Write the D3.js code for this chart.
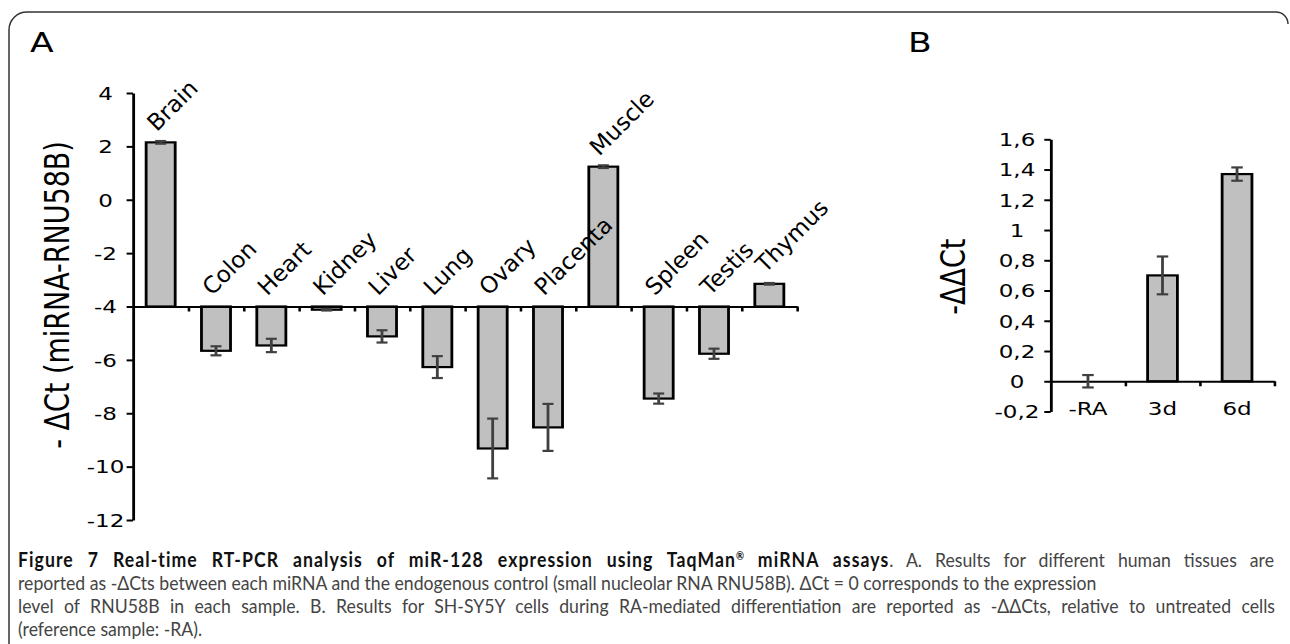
<!DOCTYPE html>
<html>
<head>
<meta charset="utf-8">
<script src="https://cdn.jsdelivr.net/npm/d3@7"></script>
<style>
html,body{margin:0;padding:0;background:#fff;}
svg{display:block;}
</style>
</head>
<body>
<svg id="chart" width="1290" height="644"></svg>
<script>
// ---------- data ----------
const tissues = ["Brain","Colon","Heart","Kidney","Liver","Lung","Ovary","Placenta","Muscle","Spleen","Testis","Thymus"];
const dCt     = [2.15,-5.66,-5.46,-4.12,-5.12,-6.27,-9.32,-8.53,1.24,-7.45,-5.77,-3.15];
const dCtErr  = [0.05,0.17,0.25,0.03,0.23,0.41,1.12,0.88,0.05,0.19,0.19,0.03];
const yTicksA = [4,2,0,-2,-4,-6,-8,-10,-12];

const conditions = ["-RA","3d","6d"];
const ddCt       = [0,0.70,1.37];
const ddCtErr    = [0.041,0.125,0.044];
const yTicksB    = [1.6,1.4,1.2,1,0.8,0.6,0.4,0.2,0,-0.2];

const captionBold1 = "Figure 7 Real-time RT-PCR analysis of miR-128 expression using TaqMan";
const captionBold2 = " miRNA assays";
const captionRest1 = ". A. Results for different human tissues are";
const captionLines = [
  "reported as -\u0394Cts between each miRNA and the endogenous control (small nucleolar RNA RNU58B). \u0394Ct = 0 corresponds to the expression",
  "level of RNU58B in each sample. B. Results for SH-SY5Y cells during RA-mediated differentiation are reported as -\u0394\u0394Cts, relative to untreated cells",
  "(reference sample: -RA)."
];

// ---------- layout ----------
const SX = 1.28; // horizontal stretch of the original figure
const svg = d3.select("#chart");
svg.append("rect").attr("width",1290).attr("height",644).attr("fill","#fff");

svg.append("path")
  .attr("d","M9,644 L9,30 A18,18 0 0 1 27,12 L1276,12 A12,12 0 0 1 1288,24")
  .attr("fill","none").attr("stroke","#333").attr("stroke-width",1.5);

const g = svg.append("g").attr("transform",`scale(${SX},1)`);
const font = "DejaVu Sans, Verdana, sans-serif";
const BAR_FILL = "#c0c0c0", ERR = "#404040";

// ===== Panel A =====
const xA = d3.scaleBand().domain(tissues).range([133/SX, 797/SX]).padding(0);
const yA = d3.scaleLinear().domain([-12,4]).range([520,93]);
const baseA = -4;
const bwA = xA.bandwidth()*0.525;

g.append("text").text("A").attr("x",23.4).attr("y",52)
  .attr("font-family",font).attr("font-size",27).attr("fill","#000");

const pa = g.append("g");
pa.selectAll("rect.bar").data(tissues).join("rect")
  .attr("x",d=>xA(d)+(xA.bandwidth()-bwA)/2)
  .attr("width",bwA)
  .attr("y",(d,i)=>yA(Math.max(dCt[i],baseA)))
  .attr("height",(d,i)=>Math.abs(yA(dCt[i])-yA(baseA)))
  .attr("fill",BAR_FILL).attr("stroke","#000").attr("stroke-width",2.2);

const xAxisA = d3.axisBottom(d3.scaleLinear().domain([0,tissues.length]).range(xA.range()))
  .tickValues(d3.range(1,tissues.length+1)).tickSize(5).tickSizeOuter(0).tickFormat("");
pa.append("g").attr("transform",`translate(0,${yA(baseA)})`).call(xAxisA)
  .call(s=>s.select(".domain").attr("stroke","#000").attr("stroke-width",2.2))
  .call(s=>s.selectAll(".tick line").attr("stroke","#000").attr("stroke-width",2));

const capA = 4.3;
tissues.forEach((d,i)=>{
  const cx = xA(d)+xA.bandwidth()/2;
  const y1 = yA(dCt[i]-dCtErr[i]), y2 = yA(dCt[i]+dCtErr[i]);
  const eg = pa.append("g").attr("stroke",ERR).attr("stroke-width",2.2);
  eg.append("line").attr("x1",cx).attr("x2",cx).attr("y1",y1).attr("y2",y2);
  eg.append("line").attr("x1",cx-capA).attr("x2",cx+capA).attr("y1",y1).attr("y2",y1);
  eg.append("line").attr("x1",cx-capA).attr("x2",cx+capA).attr("y1",y2).attr("y2",y2);
});

svg.append("g").selectAll("text.cat").data(tissues).join("text")
  .attr("class","cat")
  .attr("transform",(d,i)=>`translate(${(xA(d)+xA.bandwidth()/2)*SX-4},${yA(Math.max(dCt[i],baseA))-10}) rotate(-45)`)
  .attr("font-family",font).attr("font-size",23).attr("fill","#000")
  .text(d=>d);

const yAxisA = d3.axisLeft(yA).tickValues(yTicksA).tickSize(5).tickSizeOuter(0).tickFormat(d=>String(d));
const axA = g.append("g").attr("transform",`translate(${133/SX},0)`).call(yAxisA);
axA.select(".domain").attr("stroke","#000").attr("stroke-width",2.2);
axA.selectAll(".tick line").attr("stroke","#000").attr("stroke-width",2);
axA.selectAll(".tick text").attr("font-family",font).attr("font-size",18).attr("fill","#000")
  .attr("text-anchor","middle").attr("x",105.5/SX-133/SX).attr("dy","0.35em");

g.append("text").attr("transform",`translate(${57/SX},295) rotate(-90)`)
  .attr("text-anchor","middle").attr("dy","0.35em")
  .attr("font-family",font).attr("font-size",27).attr("fill","#000")
  .text("- \u0394Ct (miRNA-RNU58B)");

// ===== Panel B =====
const xB = d3.scaleBand().domain(conditions).range([1050.7/SX, 1274.3/SX]).padding(0);
const yB = d3.scaleLinear().domain([-0.2,1.6]).range([411.5,139.3]);
const bwB = xB.bandwidth()*0.40;

g.append("text").text("B").attr("x",709.4).attr("y",52)
  .attr("font-family",font).attr("font-size",27).attr("fill","#000");

const pb = g.append("g");
pb.selectAll("rect.bar").data(conditions).join("rect")
  .attr("x",d=>xB(d)+(xB.bandwidth()-bwB)/2)
  .attr("width",bwB)
  .attr("y",(d,i)=>yB(Math.max(ddCt[i],0)))
  .attr("height",(d,i)=>Math.abs(yB(ddCt[i])-yB(0)))
  .attr("fill",BAR_FILL).attr("stroke","#000").attr("stroke-width",2.2);

const xAxisB = d3.axisBottom(d3.scaleLinear().domain([0,conditions.length]).range(xB.range()))
  .tickValues(d3.range(1,conditions.length+1)).tickSize(5).tickSizeOuter(0).tickFormat("");
pb.append("g").attr("transform",`translate(0,${yB(0)})`).call(xAxisB)
  .call(s=>s.select(".domain").attr("stroke","#000").attr("stroke-width",2.2))
  .call(s=>s.selectAll(".tick line").attr("stroke","#000").attr("stroke-width",2));

const capB = 4.5;
conditions.forEach((d,i)=>{
  const cx = xB(d)+xB.bandwidth()/2;
  const y1 = yB(ddCt[i]-ddCtErr[i]), y2 = yB(ddCt[i]+ddCtErr[i]);
  const eg = pb.append("g").attr("stroke",ERR).attr("stroke-width",2.2);
  eg.append("line").attr("x1",cx).attr("x2",cx).attr("y1",y1).attr("y2",y2);
  eg.append("line").attr("x1",cx-capB).attr("x2",cx+capB).attr("y1",y1).attr("y2",y1);
  eg.append("line").attr("x1",cx-capB).attr("x2",cx+capB).attr("y1",y2).attr("y2",y2);
});

pb.selectAll("text.cat").data(conditions).join("text")
  .attr("x",d=>xB(d)+xB.bandwidth()/2).attr("y",yB(-0.2)+4)
  .attr("text-anchor","middle")
  .attr("font-family",font).attr("font-size",18).attr("fill","#000")
  .text(d=>d);

const yAxisB = d3.axisLeft(yB).tickValues(yTicksB).tickSize(5).tickSizeOuter(0)
  .tickFormat(d=>String(+d.toFixed(1)).replace(".",","));
const axB = g.append("g").attr("transform",`translate(${1050.7/SX},0)`).call(yAxisB);
axB.select(".domain").attr("stroke","#000").attr("stroke-width",2.2);
axB.selectAll(".tick line").attr("stroke","#000").attr("stroke-width",2);
axB.selectAll(".tick text").attr("font-family",font).attr("font-size",18).attr("fill","#000")
  .attr("text-anchor","middle").attr("x",1017/SX-1050.7/SX).attr("dy","0.35em");

g.append("text").attr("transform",`translate(${953/SX},276.7) rotate(-90)`)
  .attr("text-anchor","middle").attr("dy","0.35em")
  .attr("font-family",font).attr("font-size",27).attr("fill","#000")
  .text("-\u0394\u0394Ct");

// ===== Caption (condensed by a horizontal scale, justified lines 1 and 3) =====
const capG = svg.append("g").attr("font-family","Lato, 'Liberation Sans', sans-serif")
  .attr("font-size",20).attr("fill","#444");
const CX = 18, ys = [567,590,613,636];
const l1 = capG.append("text");
l1.append("tspan").attr("font-weight","bold").attr("fill","#111").attr("letter-spacing",1.2).text(captionBold1);
l1.append("tspan").attr("font-weight","bold").attr("fill","#111").attr("font-size",11).attr("dy",-7).text("\u00AE");
l1.append("tspan").attr("font-weight","bold").attr("fill","#111").attr("letter-spacing",1.2).attr("dy",7).text(captionBold2);
l1.append("tspan").text(captionRest1);
const others = captionLines.map(s=>capG.append("text").text(s));
const allLines = [l1, ...others];
const k = 1079 / others[0].node().getComputedTextLength();
const targets = [1256, null, 1257, null];
allLines.forEach((t,i)=>{
  t.attr("transform",`translate(${CX},${ys[i]}) scale(${k},1)`);
  if (targets[i]) {
    const L = t.node().getComputedTextLength();
    const nSp = (t.text().match(/ /g)||[]).length;
    const want = targets[i]/k;
    if (want > L && nSp>0) {
      t.style("word-spacing", ((want-L)/nSp)+"px");
      const L2 = t.node().getComputedTextLength();
      if (Math.abs(L2-want) > 3) {
        t.style("word-spacing", null);
        t.attr("textLength", want).attr("lengthAdjust","spacing");
      }
    }
  }
});
</script>
</body>
</html>
